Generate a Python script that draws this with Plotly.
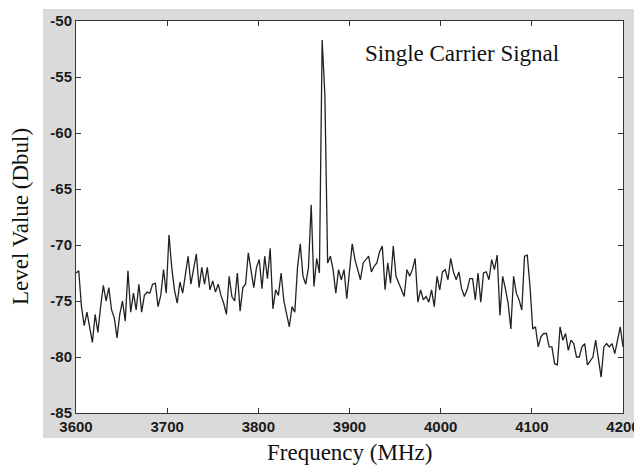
import numpy as np
import plotly.graph_objects as go

# Frequency grid (MHz), 3 MHz spacing
freq_start, freq_stop, freq_step = 3600, 4200, 3

# Level values (Dbul), grouped by ~100 MHz spans
level_3600_3699 = [-72.5, -72.3, -75.5, -77.2, -76.0, -77.5, -78.7, -76.2, -77.8, -75.5,
                   -73.6, -75.0, -73.8, -75.8, -76.5, -78.3, -76.2, -75.0, -76.8, -72.3,
                   -76.0, -74.3, -75.8, -73.5, -76.0, -74.5, -74.2, -74.3, -73.5, -73.4,
                   -75.5, -74.5, -72.2, -74.3]
level_3702_3801 = [-69.1, -72.0, -74.0, -75.2, -73.3, -74.3, -72.8, -71.0, -73.5, -72.0,
                   -70.8, -73.8, -72.0, -73.5, -72.0, -74.0, -73.2, -74.2, -73.5, -74.5,
                   -75.2, -76.2, -72.8, -74.6, -75.0, -72.5, -75.9, -73.8, -73.5, -70.7,
                   -72.5, -73.8, -72.0, -71.3]
level_3804_3900 = [-73.9, -71.0, -73.0, -70.3, -75.7, -74.0, -74.5, -72.5, -75.0, -76.2,
                   -77.3, -75.5, -76.0, -72.0, -69.9, -72.8, -73.5, -72.0, -66.4, -73.7,
                   -71.2, -72.5, -51.7, -56.6, -71.6, -71.0, -72.2, -74.3, -72.2, -73.1,
                   -72.2, -74.8, -72.5]
level_3903_3999 = [-69.9, -71.3, -72.2, -73.1, -71.6, -71.3, -71.0, -72.4, -71.9, -71.6,
                   -70.6, -70.1, -74.0, -71.6, -73.4, -70.1, -72.8, -73.4, -74.0, -74.6,
                   -72.2, -72.8, -72.2, -71.2, -75.1, -74.0, -74.9, -74.6, -75.1, -74.0,
                   -75.5, -72.8, -74.0]
level_4002_4098 = [-72.4, -72.2, -73.1, -71.2, -72.4, -73.1, -72.4, -73.9, -74.6, -74.0,
                   -73.0, -73.0, -74.9, -72.5, -75.1, -72.5, -72.4, -73.1, -71.3, -72.2,
                   -70.9, -76.3, -72.8, -73.9, -75.2, -77.5, -72.8, -74.3, -74.9, -75.8,
                   -71.0, -70.9, -73.7]
level_4101_4200 = [-77.5, -77.3, -79.1, -78.2, -77.9, -77.9, -79.1, -79.1, -80.6, -80.7,
                   -77.3, -78.5, -77.9, -79.4, -78.5, -78.8, -80.0, -80.0, -79.1, -78.8,
                   -80.7, -80.3, -80.0, -78.5, -80.3, -81.8, -79.1, -78.8, -79.1, -78.8,
                   -79.7, -78.5, -77.3, -79.1]

levels = (level_3600_3699 + level_3702_3801 + level_3804_3900 +
          level_3903_3999 + level_4002_4098 + level_4101_4200)
freqs = list(range(freq_start, freq_stop + 1, freq_step))
assert len(freqs) == len(levels)

x_ticks = [3600, 3700, 3800, 3900, 4000, 4100, 4200]
x_tick_labels = ["3600", "3700", "3800", "3900", "4000", "4100", "4200"]
y_ticks = [-85, -80, -75, -70, -65, -60, -55, -50]
y_tick_labels = ["-85", "-80", "-75", "-70", "-65", "-60", "-55", "-50"]

fig = go.Figure()
fig.add_trace(go.Scatter(x=freqs, y=levels, mode="lines",
                         line=dict(color="#222222", width=1.3),
                         hoverinfo="x+y", showlegend=False))

W, H = 634, 466
ml, mr, mt, mb = 76, 11, 21, 53
pw, ph = W - ml - mr, H - mt - mb

def px(xp):
    return (xp - ml) / pw

def py(yp):
    return (H - mb - yp) / ph

axis_common = dict(showline=True, linecolor="#333333", linewidth=1, mirror="ticks",
                   ticks="inside", ticklen=5, tickcolor="#333333", tickwidth=1,
                   showgrid=False, zeroline=False, ticklabeloverflow="allow",
                   automargin=False,
                   tickfont=dict(family="Arial, Liberation Sans", size=15, color="#1a1a1a",
                                 weight="bold"))

fig.update_layout(
    width=W, height=H, autosize=False,
    margin=dict(l=ml, r=mr, t=mt, b=mb),
    paper_bgcolor="white", plot_bgcolor="white",
    xaxis=dict(range=[3600, 4200], tickvals=x_ticks, ticktext=x_tick_labels, **axis_common),
    yaxis=dict(range=[-85, -50], tickvals=y_ticks, ticktext=y_tick_labels, **axis_common),
    shapes=[
        dict(type="rect", xref="paper", yref="paper", layer="below",
             x0=px(43), x1=px(640), y0=py(438), y1=py(9),
             fillcolor="#dadada", line=dict(width=0)),
        dict(type="rect", xref="paper", yref="paper", layer="below",
             x0=0, x1=1, y0=0, y1=1, fillcolor="white", line=dict(width=0)),
    ],
    annotations=[
        dict(text="Single Carrier Signal", xref="paper", yref="paper",
             x=px(462), y=py(54), showarrow=False, xanchor="center", yanchor="middle",
             font=dict(family="Liberation Serif, Times New Roman", size=23, color="#111111")),
        dict(text="Frequency (MHz)", xref="paper", yref="paper",
             x=0.5, y=py(452), showarrow=False, xanchor="center", yanchor="middle",
             font=dict(family="Liberation Serif, Times New Roman", size=23, color="#111111")),
        dict(text="Level Value (Dbul)", xref="paper", yref="paper",
             x=px(20), y=0.5, showarrow=False, xanchor="center", yanchor="middle",
             textangle=-90,
             font=dict(family="Liberation Serif, Times New Roman", size=23, color="#111111")),
    ],
)

fig.write_html("out.html",
               config={"responsive": False, "displayModeBar": False},
               post_script="document.body.style.margin='0';")
